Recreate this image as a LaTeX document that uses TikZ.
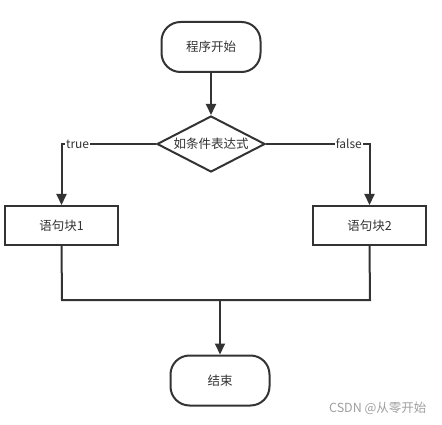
\documentclass[tikz,border=0pt]{standalone}
\usepackage{fontspec}
\setmainfont{Noto Sans CJK SC}
\usetikzlibrary{shapes.geometric,arrows.meta}
\definecolor{ln}{HTML}{333333}
\tikzset{
  base/.style={draw=ln, line width=2pt, fill=white, text=ln, font=\fontsize{12.5}{14}\selectfont, inner sep=0pt},
  term/.style={base, rounded corners=19pt, minimum width=99pt, minimum height=50pt},
  proc/.style={base, minimum width=113pt, minimum height=39pt},
  dec/.style={base, diamond, aspect=1.93, minimum width=108pt, minimum height=56pt},
  conn/.style={draw=ln, line width=2pt},
  arr/.style={conn, -{Triangle[length=11pt,width=10pt]}},
  lbl/.style={fill=white, text=ln, font=\fontsize{12}{13}\selectfont, inner sep=1pt},
}
\begin{document}
\begin{tikzpicture}[x=1pt,y=-1pt]
\useasboundingbox (0,0) rectangle (442,425);
\node[term] (start) at (211,47) {程序开始};
\node[dec] (cond) at (211,144) {如条件表达式};
\node[proc] (b1) at (61.5,225.5) {语句块1};
\node[proc] (b2) at (369.5,225.5) {语句块2};
\node[term] (end) at (220,380.5) {结束};
\coordinate (ml) at (62,300);
\coordinate (mr) at (370,300);
\coordinate (mm) at (220,300);
\draw[arr] (start) -- (cond);
\draw[arr] (cond.west) -| (b1.north) node[lbl, pos=0.415] {true};
\draw[arr] (cond.east) -| (b2.north) node[lbl, pos=0.4] {false};
\draw[conn] (b1.south) -- (ml) -- (mr) -- (b2.south);
\draw[arr] (mm) -- (end);
\node[text=gray!75, font=\fontsize{12.5}{14}\selectfont, anchor=east] (wm) at (430,408) {CSDN @从零开始};
\end{tikzpicture}
\end{document}
